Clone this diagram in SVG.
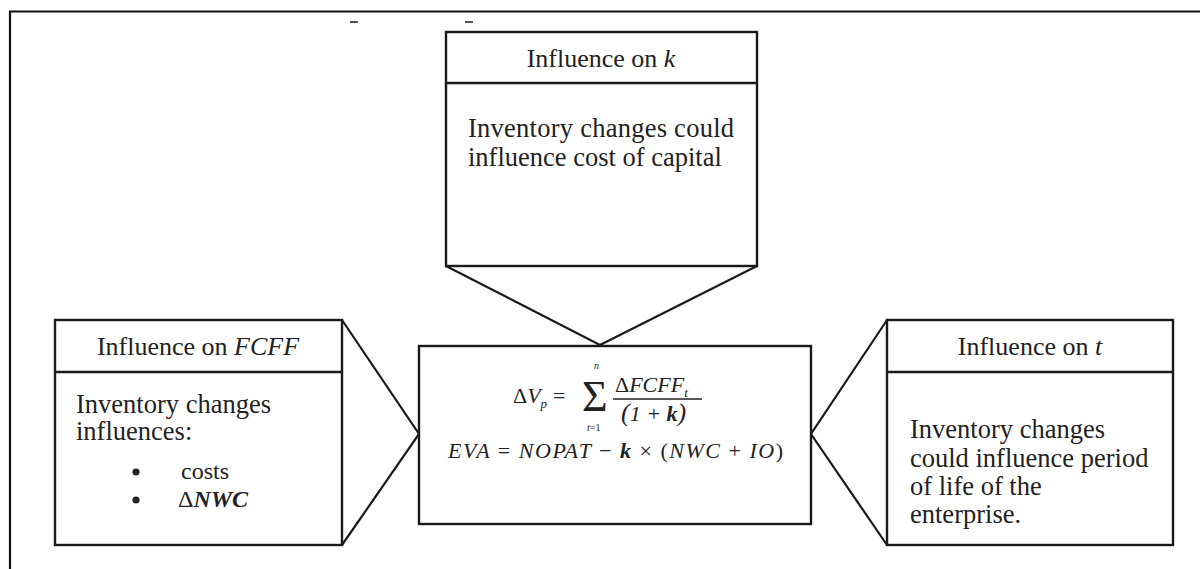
<svg xmlns="http://www.w3.org/2000/svg" width="1200" height="569" viewBox="0 0 1200 569">
  <style>
    .frame { stroke: #111; stroke-width: 2.2; fill: none; }
    .box { stroke: #1a1a1a; stroke-width: 2.4; fill: #fff; }
    .link { stroke: #1a1a1a; stroke-width: 2.2; fill: none; stroke-linejoin: miter; }
    text { font-family: "Liberation Serif", "Times New Roman", serif; fill: #222; }
    .hd { font-size: 26px; text-anchor: middle; }
    .bd { font-size: 26.5px; }
    .li { font-size: 24px; }
    .it { font-style: italic; }
    .eq { font-size: 22px; font-style: italic; }
    .lim { font-size: 10px; }
  </style>

  <rect width="1200" height="569" fill="#fff"/>

  <!-- page frame -->
  <g id="frame">
    <path class="frame" d="M10,569 V11.5 H1200"/>
    <path d="M350,22 h8 M465,22 h8" stroke="#555" stroke-width="2"/>
  </g>

  <!-- connectors: open wedges joining each box to the central formula box -->
  <g id="connectors">
    <path class="link" d="M446,266 L600,345 L757,266"/>
    <path class="link" d="M342,320 L419,434 L342,545"/>
    <path class="link" d="M887,320 L811,434 L887,545"/>
  </g>

  <!-- influence on k -->
  <g id="node-k">
    <rect class="box" x="446" y="32" width="311" height="234"/>
    <line class="box" x1="446" y1="83" x2="757" y2="83"/>
    <text class="hd" x="601" y="67">Influence on <tspan class="it">k</tspan></text>
    <text class="bd" x="468" y="137" textLength="266" lengthAdjust="spacing">Inventory changes could</text>
    <text class="bd" x="468" y="166">influence cost of capital</text>
  </g>

  <!-- influence on FCFF -->
  <g id="node-fcff">
    <rect class="box" x="55" y="320" width="287" height="225"/>
    <line class="box" x1="55" y1="372" x2="342" y2="372"/>
    <text class="hd" x="198" y="355">Influence on <tspan class="it">FCFF</tspan></text>
    <text class="bd" x="76" y="413">Inventory changes</text>
    <text class="bd" x="76" y="440">influences:</text>
    <circle cx="136" cy="472" r="3.6" fill="#222"/>
    <text class="li" x="181" y="479">costs</text>
    <circle cx="136" cy="500" r="3.6" fill="#222"/>
    <text class="li" x="178" y="507">Δ<tspan font-style="italic" font-weight="bold">NWC</tspan></text>
  </g>

  <!-- central formula -->
  <g id="node-formula">
    <rect class="box" x="419" y="346" width="392" height="178"/>
    <text class="eq" x="513" y="403"><tspan font-style="normal">Δ</tspan>V<tspan font-size="13" dy="5">p</tspan><tspan dy="-5" font-style="normal" dx="6">=</tspan></text>
    <!-- summation sign and its limits -->
    <text x="582" y="411" font-size="44">Σ</text>
    <text class="lim it" x="594" y="369">n</text>
    <text class="lim" x="587" y="431"><tspan class="it">t</tspan>=1</text>
    <text class="eq" x="615" y="392"><tspan font-style="normal">Δ</tspan>FCFF<tspan font-size="13" dy="5">t</tspan></text>
    <line x1="613" y1="399" x2="702" y2="399" stroke="#222" stroke-width="1.6"/>
    <text class="eq" x="621" y="421" font-style="normal"><tspan font-size="26">(</tspan>1 + <tspan font-style="italic" font-weight="bold">k</tspan><tspan font-size="26">)</tspan></text>
    <text class="eq" x="448" y="458" textLength="335" lengthAdjust="spacing">EVA <tspan font-style="normal">=</tspan> NOPAT  <tspan font-style="normal">−</tspan> <tspan font-weight="bold">k</tspan> <tspan font-style="normal">× (</tspan>NWC <tspan font-style="normal">+</tspan> IO<tspan font-style="normal">)</tspan></text>
  </g>

  <!-- influence on t -->
  <g id="node-t">
    <rect class="box" x="887" y="320" width="286" height="225"/>
    <line class="box" x1="887" y1="372" x2="1173" y2="372"/>
    <text class="hd" x="1030" y="355">Influence on <tspan class="it">t</tspan></text>
    <text class="bd" x="910" y="438">Inventory changes</text>
    <text class="bd" x="910" y="467">could  influence period</text>
    <text class="bd" x="910" y="495">of life of  the</text>
    <text class="bd" x="910" y="523">enterprise.</text>
  </g>
</svg>
